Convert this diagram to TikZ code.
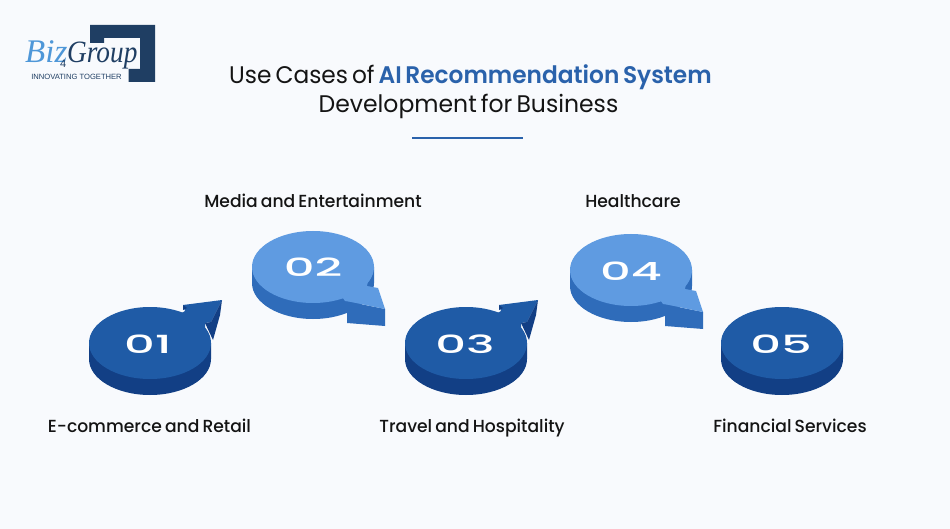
\documentclass[tikz,border=0pt]{standalone}
\usepackage{fontspec}
\setmainfont{Poppins}[UprightFont=* Medium,BoldFont=* SemiBold,WordSpace=0.7]
\newfontfamily\titlefont{Poppins}[UprightFont=*,BoldFont=* SemiBold,WordSpace=0.65]
\newfontfamily\numfont{Poppins}[UprightFont=* Medium]
\newfontfamily\logofont{Liberation Serif}
\newfontfamily\logosans{Liberation Sans}
\definecolor{bgc}{HTML}{F8FAFD}
\definecolor{darktop}{HTML}{1F5BA6}
\definecolor{darkside}{HTML}{123F85}
\definecolor{lighttop}{HTML}{5F9BE1}
\definecolor{lightside}{HTML}{2F6CBA}
\definecolor{titleblue}{HTML}{2A62AB}
\definecolor{logonavy}{HTML}{1F3E63}
\definecolor{logoblue}{HTML}{4E97D8}
\definecolor{inkc}{HTML}{141414}
\tikzset{
  x=1pt,y=-1pt,
  labeltext/.style={inner sep=0pt,anchor=base,text=inkc},
  titletext/.style={inner sep=0pt,anchor=base,text=inkc},
  numtext/.style={text=white,inner sep=0pt,anchor=center},
}
\newcommand{\numlabel}[1]{\scalebox{1.92}[1]{\fontsize{25}{25}\numfont #1}}
\newcommand{\lbl}[1]{\scalebox{0.98}[1]{\fontsize{17.5}{20}\selectfont #1}}
\newcommand{\discside}[4]{%
  \fill[#4] (#1-61,#2) -- (#1-61,#2+16) arc[start angle=180,end angle=360,x radius=61,y radius=-36] -- (#1+61,#2) -- cycle;}
\newcommand{\disctop}[4]{%
  \fill[#3] (#1,#2) ellipse[x radius=61,y radius=36];}
\begin{document}
\begin{tikzpicture}
\useasboundingbox (0,0) rectangle (950,529);
\fill[bgc] (0,0) rectangle (950,529);

% logo
\fill[logonavy] (90,25) -- (155,25) -- (155,82) -- (128.5,82) -- (128.5,69) -- (140,69) -- (140,38) -- (104,38) -- (104,43) -- (90,43) -- cycle;
\node[inner sep=0pt,anchor=base west] (logoa) at (25,63) {\logofont\itshape\fontsize{33}{33}\selectfont\textcolor{logoblue}{Biz}};
\node[inner sep=0pt,anchor=base west] (logod) at (60,68) {\logosans\fontsize{11}{11}\selectfont\textcolor{logonavy}{4}};
\node[inner sep=0pt,anchor=base west] (logob) at (67,63) {\scalebox{0.88}[1]{\logofont\itshape\fontsize{31}{31}\selectfont\textcolor{logonavy}{Group}}};
\node[inner sep=0pt,anchor=center] (logoc) at (76.5,76.5) {\logosans\fontsize{7.6}{8}\selectfont\textcolor{logonavy}{INNOVATING TOGETHER}};

% title
\node[titletext] (t1) at (470.5,83.5) {\scalebox{0.97}[1]{\fontsize{24}{30}\titlefont Use Cases of \textcolor{titleblue}{\bfseries AI Recommendation System}}};
\node[titletext] (t2) at (468.5,113) {\scalebox{0.98}[1]{\fontsize{24}{30}\titlefont Development for Business}};
\fill[titleblue] (412,137) rectangle (523,139);

% disc 01
\discside{150}{343}{darktop}{darkside}
\fill[darktop] (170,320) -- (185,311) -- (183,305) -- (222,300) -- (211,322) -- (205,323) -- (205,345) -- cycle;
\fill[darkside] (205,323) -- (213,340) -- (220,315) -- (222,300) -- (211,322) -- cycle;
\fill[darkside] (183,305) -- (187,308) -- (183,310) -- cycle;
\disctop{150}{343}{darktop}{darkside}
\node[numtext] (n1) at (148,344) {\numlabel{01}};

% disc 03
\discside{466}{343}{darktop}{darkside}
\fill[darktop] (486,320) -- (501,311) -- (499,305) -- (538,300) -- (527,322) -- (521,323) -- (521,345) -- cycle;
\fill[darkside] (521,323) -- (529,340) -- (536,315) -- (538,300) -- (527,322) -- cycle;
\fill[darkside] (499,305) -- (503,308) -- (499,310) -- cycle;
\disctop{466}{343}{darktop}{darkside}
\node[numtext] (n3) at (465,344) {\numlabel{03}};

% disc 05
\discside{782}{343}{darktop}{darkside}
\disctop{782}{343}{darktop}{darkside}
\node[numtext] (n5) at (781,344) {\numlabel{05}};

% disc 02
\discside{313}{267}{lighttop}{lightside}
\fill[lightside] (345,301) -- (385,309) -- (385,326) -- (347,323) -- (347,312) -- (330,316) -- cycle;
\fill[lightside] (367,285) -- (372,283) -- (374,270) -- cycle;
\fill[lighttop] (330,280) -- (370,270) -- (367,286) -- (378,288) -- (385,309) -- (351,302) -- (345,301) -- cycle;
\disctop{313}{267}{lighttop}{lightside}
\node[numtext] (n2) at (313,267) {\numlabel{02}};

% disc 04
\discside{631}{270}{lighttop}{lightside}
\fill[lightside] (663,304) -- (703,312) -- (703,329) -- (665,326) -- (665,315) -- (648,319) -- cycle;
\fill[lightside] (685,288) -- (690,286) -- (692,273) -- cycle;
\fill[lighttop] (648,283) -- (688,273) -- (685,289) -- (696,291) -- (703,312) -- (669,305) -- (663,304) -- cycle;
\disctop{631}{270}{lighttop}{lightside}
\node[numtext] (n4) at (631,271) {\numlabel{04}};

% labels
\node[labeltext] (l1) at (149.5,432) {\lbl{E-commerce and Retail}};
\node[labeltext] (l2) at (313,208) {\lbl{Media and Entertainment}};
\node[labeltext] (l3) at (472,432) {\lbl{Travel and Hospitality}};
\node[labeltext] (l4) at (633,208) {\lbl{Healthcare}};
\node[labeltext] (l5) at (790,432) {\lbl{Financial Services}};
\end{tikzpicture}
\end{document}
